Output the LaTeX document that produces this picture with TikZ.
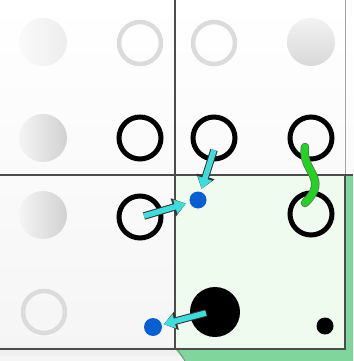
\documentclass[tikz,border=0pt]{standalone}
\usetikzlibrary{arrows.meta}

\definecolor{arrowcyan}{HTML}{40DCDC}
\definecolor{linkgreen}{HTML}{22D322}
\definecolor{cellgreen}{HTML}{EEFBEE}
\definecolor{bevelgreen}{HTML}{7FD59B}
\definecolor{dotblue}{HTML}{0A5FD0}

\tikzset{
  ring/.style={circle, draw=black, line width=5pt, minimum size=42pt, inner sep=0pt},
  fadering/.style={circle, draw=gray!28, line width=4.5pt, minimum size=42pt, inner sep=0pt},
  fadedisk/.style={circle, minimum size=48pt, inner sep=0pt},
  bluedot/.style={circle, fill=dotblue, minimum size=17pt, inner sep=0pt},
  blackdot/.style={circle, fill=black, inner sep=0pt},
  cyanarrow/.style={draw=arrowcyan, line width=5.5pt, -{Triangle[length=11pt,width=14pt]},
    preaction={draw=black!80, line width=7.5pt, -{Triangle[length=13pt,width=18pt]}}},
  greenlink/.style={draw=linkgreen, line width=7pt, line cap=round,
    preaction={draw=black!60, line width=8.5pt, line cap=round}}
}

\begin{document}
\begin{tikzpicture}[x=1pt, y=-1pt]
  \useasboundingbox (0,0) rectangle (353,361);

  % Background and grid
  \shade[top color=white, bottom color=gray!8] (0,0) rectangle (353,361);
  \fill[gray!12] (0,350) rectangle (178,356);
  \fill[bevelgreen] (175,349) -- (345,349) -- (345,175) -- (353,175) -- (353,361) -- (185,361) -- cycle;
  \fill[cellgreen] (175,175) rectangle (345,349);
  \draw[gray!70, line width=1pt] (345,0) -- (345,175);
  \draw[black!70, line width=1.3pt] (0,175) -- (353,175);
  \draw[black!70, line width=1.3pt] (175,0) -- (175,350);
  \draw[black!70, line width=1.3pt] (0,349) -- (345,349) -- (345,175);
  \draw[black!50, line width=0.8pt] (178,350) -- (185,361);

  % Faded positions
  \node[fadedisk, left color=gray!4, right color=gray!14] (a1) at (43,42) {};
  \node[fadedisk, left color=gray!8, right color=gray!36] (a2) at (43,138) {};
  \node[fadedisk, left color=gray!8, right color=gray!36] (a3) at (43,215) {};
  \node[fadedisk, top color=gray!10, bottom color=gray!30] (d1) at (311,42) {};
  \node[fadering] (b1) at (140,43) {};
  \node[fadering] (c1) at (214,43) {};
  \node[fadering] (a4) at (44,312) {};

  % Rings
  \foreach \name/\x/\y in {b2/140/138, c2/214/138, d2/311/138, b3/140/217, d3/311/214}
    \node[ring] (\name) at (\x,\y) {};

  % Dots
  \node[blackdot, minimum size=50pt] (c4) at (215,312) {};
  \node[blackdot, minimum size=17pt] (d4) at (325,326) {};
  \node[bluedot] (bd1) at (198,200) {};
  \node[bluedot, minimum size=18pt] (bd2) at (153,327) {};

  % Moves
  \coordinate (m1) at (214,150);
  \coordinate (m2) at (144,216);
  \coordinate (m3) at (206,313);
  \draw[cyanarrow, shorten >=3pt] (m1) -- (bd1);
  \draw[cyanarrow, shorten >=4pt] (m2) -- (bd1);
  \draw[cyanarrow, shorten >=2pt] (m3) -- (bd2);

  % Link between the right rings
  \coordinate (l1) at (305,147);
  \coordinate (l2) at (305,203);
  \draw[greenlink] (l1) .. controls (301,172) and (330,178) .. (l2);
\end{tikzpicture}
\end{document}
